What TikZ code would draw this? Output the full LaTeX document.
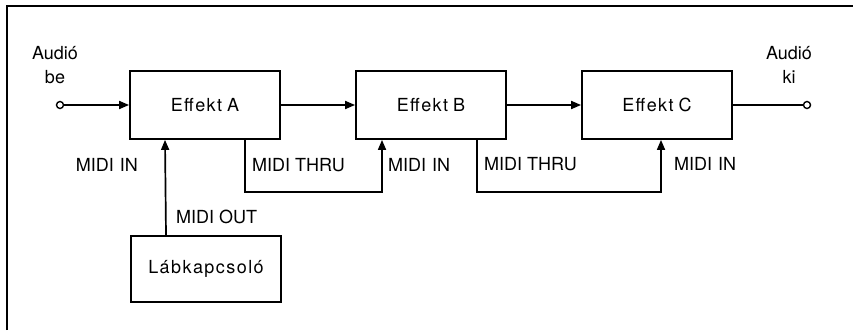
\documentclass[tikz,border=0pt]{standalone}
\usepackage{fontspec}
\setmainfont{TeX Gyre Heros}
\newfontfamily\boxfont{TeX Gyre Heros}[LetterSpace=8]
\usetikzlibrary{arrows.meta}

\tikzset{
	box/.style = {draw, line width=1.8pt, minimum width=150pt, minimum height=68pt, font=\boxfont\fontsize{18}{22}\selectfont},
	lbl/.style = {inner sep=0pt},
	jack/.style = {circle, draw, line width=1.4pt, inner sep=0pt, minimum size=7pt},
	sig/.style = {line width=1.7pt, -{Triangle[length=10pt, width=8pt]}}
}

\begin{document}
\begin{tikzpicture}[x=1pt, y=1pt, font=\fontsize{18}{22}\selectfont]
	\useasboundingbox (0,0) rectangle (853,330);
	\draw [line width=1.2pt] (7,0) -- (7,324) -- (853,324);

	\node [box] (effA) at (205,225) {Effekt\hspace{5pt}A};
	\node [box] (effB) at (431,225) {Effekt\hspace{5pt}B};
	\node [box] (effC) at (657,225) {Effekt\hspace{5pt}C};
	\node [box, minimum height=66pt] (lab) at (206,61) {Lábkapcsoló};

	\node [jack] (in) at (60,225) {};
	\node [jack] (out) at (807,225) {};
	\node [lbl, align=center] (inTxt) at (55,265) {Audió\\[2pt]be};
	\node [lbl, align=center] (outTxt) at (789,265) {Audió\\[2pt]ki};

	\draw [sig] (in) -- (effA);
	\draw [sig] (effA) -- (effB);
	\draw [sig] (effB) -- (effC);
	\draw [line width=1.7pt] (effC) -- (out);
	\draw [sig] ([xshift=-40pt]lab.north) -- ([xshift=-40pt]effA.south);
	\draw [sig] ([xshift=40pt]effA.south) -- ++(0,-52) -| ([xshift=-49pt]effB.south);
	\draw [sig] ([xshift=46pt]effB.south) -- ++(0,-52) -| ([xshift=4pt]effC.south);

	\node [lbl, anchor=east] (inA) at (138,165) {MIDI\hspace{6pt}IN};
	\node [lbl, anchor=west] (outLab) at (176,113) {MIDI OUT};
	\node [lbl, anchor=west] (thruA) at (252,165) {MIDI THRU};
	\node [lbl, anchor=west] (inB) at (388,165) {MIDI\hspace{6pt}IN};
	\node [lbl, anchor=west] (thruB) at (484,166) {MIDI THRU};
	\node [lbl, anchor=west] (inC) at (674,166) {MIDI\hspace{6pt}IN};
\end{tikzpicture}
\end{document}
